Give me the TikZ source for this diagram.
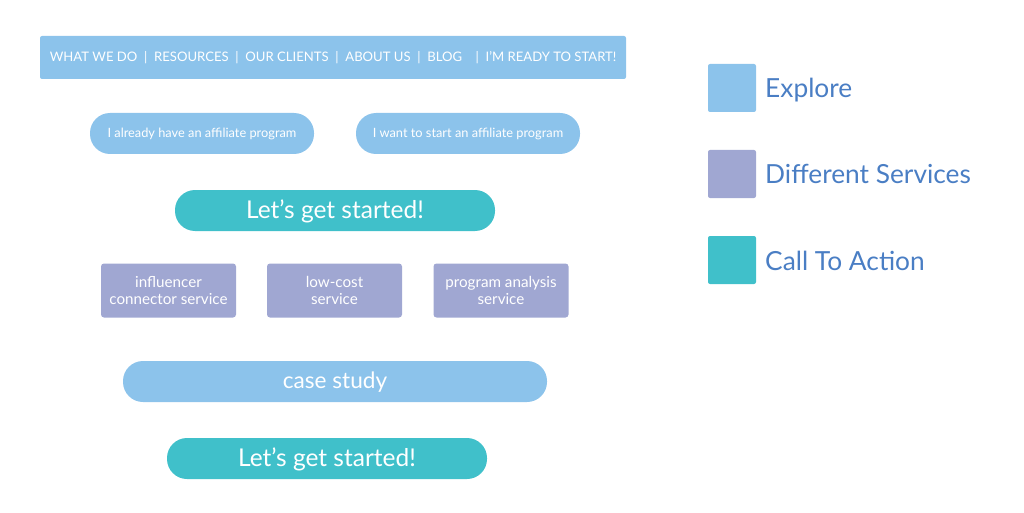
\documentclass[tikz,border=0pt]{standalone}
\usepackage{fontspec}
\setmainfont{Lato}
\definecolor{explore}{HTML}{8CC3EB}
\definecolor{service}{HTML}{A0A7D2}
\definecolor{action}{HTML}{40C0CA}
\definecolor{legendtext}{HTML}{4A7EC4}

\begin{document}
\begin{tikzpicture}[x=1pt,y=-1pt]
   \useasboundingbox (0,0) rectangle (1024,513);
   \begin{scope}[every node/.style={text=white,inner sep=0pt,rounded corners=20pt}]
    \node[fill=explore,minimum width=586pt,text height=25.7pt,text depth=17.3pt,rounded corners=2pt,font=\fontsize{13.1}{16}\selectfont] (menu) at (333,57.5) {WHAT WE DO\ \ |\ \ RESOURCES\ \ |\ \ OUR CLIENTS\ \ |\ \ ABOUT US\ \ |\ \ BLOG\ \ \ \ |\ \ I'M READY TO START!};
    \node[fill=explore,minimum width=224pt,text height=24.5pt,text depth=16.5pt,font=\fontsize{12.8}{15}\selectfont] (have) at (202,133.5) {I already have an affiliate program};
    \node[fill=explore,minimum width=224pt,text height=24.5pt,text depth=16.5pt,font=\fontsize{12.8}{15}\selectfont] (want) at (468,133.5) {I want to start an affiliate program};
    \node[fill=action,minimum width=320pt,text height=28.5pt,text depth=12.5pt,font=\fontsize{24.5}{28}\selectfont] (start1) at (335,210.5) {Let’s get started!};
    \node[fill=explore,minimum width=424pt,text height=27.3pt,text depth=13.7pt,font=\fontsize{22.6}{26}\selectfont] (case) at (335,381.5) {case study};
    \node[fill=action,minimum width=320pt,text height=28pt,text depth=13pt,font=\fontsize{24.5}{28}\selectfont] (start2) at (327,458.5) {Let’s get started!};
   \end{scope}
   \begin{scope}[every node/.style={fill=service,text=white,inner sep=0pt,minimum width=135pt,minimum height=54pt,rounded corners=3pt,align=center,font=\fontsize{15.2}{17.6}\selectfont}]
    \node (influencer) at (168.5,290.5) {influencer\\connector service};
    \node (lowcost) at (334.5,290.5) {low-cost\\service};
    \node (analysis) at (501,290.5) {program analysis\\service};
   \end{scope}
   \begin{scope}[every node/.style={minimum size=48pt,inner sep=0pt,rounded corners=2pt}]
    \node[fill=explore] (kexplore) at (732,88) {};
    \node[fill=service] (kservice) at (732,174) {};
    \node[fill=action] (kaction) at (732,260) {};
   \end{scope}
   \begin{scope}[every node/.style={text=legendtext,anchor=base west,inner sep=0pt,font=\fontsize{26.3}{30}\selectfont}]
    \node (lexplore) at (765,97.5) {Explore};
    \node (lservice) at (765,183) {Different Services};
    \node (laction) at (765,270) {Call To Action};
   \end{scope}
\end{tikzpicture}
\end{document}
